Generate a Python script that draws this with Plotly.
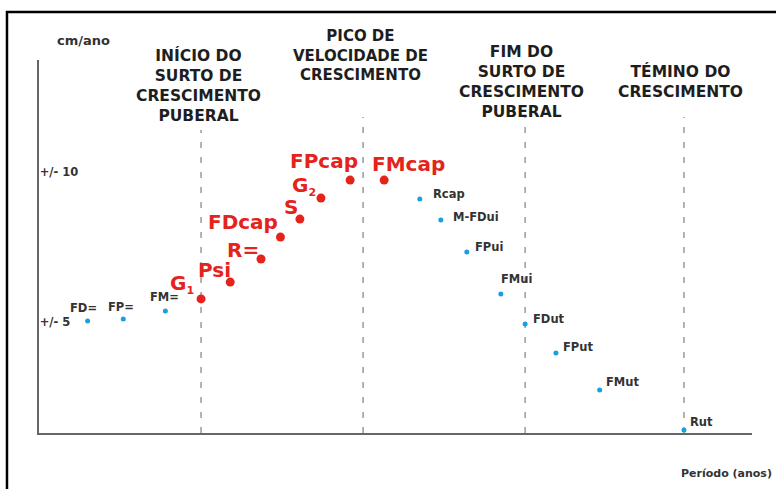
import plotly.graph_objects as go

# ---------------- data ----------------
blue_names = ["FD=", "FP=", "FM=", "Rcap", "M-FDui", "FPui", "FMui", "FDut", "FPut", "FMut", "Rut"]
blue_x = [0.30, 0.52, 0.78, 2.35, 2.48, 2.64, 2.85, 3.00, 3.19, 3.46, 3.98]
blue_y = [5.03, 5.10, 5.37, 9.10, 8.40, 7.33, 5.93, 4.93, 3.97, 2.73, 1.40]

red_names = ["G<sub><span style='font-size:11px'>1</span></sub>", "Psi", "R=", "FDcap", "S",
             "G<sub><span style='font-size:11px'>2</span></sub>", "FPcap", "FMcap"]
red_x = [1.00, 1.18, 1.37, 1.49, 1.61, 1.74, 1.92, 2.13]
red_y = [5.77, 6.33, 7.10, 7.83, 8.43, 9.13, 9.73, 9.73]

phase_x = [1.0, 2.0, 3.0, 3.98]
phase_names = [
    "INÍCIO DO<br>SURTO DE<br>CRESCIMENTO<br>PUBERAL",
    "PICO DE<br>VELOCIDADE DE<br>CRESCIMENTO",
    "FIM DO<br>SURTO DE<br>CRESCIMENTO<br>PUBERAL",
    "TÉMINO DO<br>CRESCIMENTO",
]

y_tick_vals = [5, 10]
y_tick_text = ["+/- 5", "+/- 10"]
y_title = "cm/ano"
x_title = "Período (anos)"

# ---------------- style ----------------
RED = "#e5231b"
BLUE = "#1a9fe0"
DARK = "#1e1e1e"
FONT = "DejaVu Sans"
X_RANGE = [0, 4.4]
Y_RANGE = [1.3, 13.733]

# label placement: (xanchor, xshift, yshift)
blue_off = [("center", -4, 13), ("center", -2, 12), ("center", -1, 14),
            ("left", 11, 5), ("left", 10, 3), ("left", 6, 5), ("left", -2, 15),
            ("left", 6, 5), ("left", 5, 6), ("left", 4, 8), ("left", 4, 8)]
red_off = [(-19, 15), (-16, 12), (-18, 9), (-37, 15), (-9, 12), (-17, 12), (-26, 19), (24, 16)]
head_off = [(-3, -25, 15.5), (-3, 5, 15), (-4, -22, 15.5), (-3, -21.5, 15.5)]
dash_top = [11.4, 11.83, 11.83, 11.83]

fig = go.Figure()
fig.add_trace(go.Scatter(x=red_x, y=red_y, mode="markers",
                         marker=dict(color=RED, size=9), cliponaxis=False,
                         hoverinfo="text", text=red_names, showlegend=False))
fig.add_trace(go.Scatter(x=blue_x, y=blue_y, mode="markers",
                         marker=dict(color=BLUE, size=5), cliponaxis=False,
                         hoverinfo="text", text=blue_names, showlegend=False))

annotations = []
for n, x, y, (xa, dx, dy) in zip(blue_names, blue_x, blue_y, blue_off):
    annotations.append(dict(x=x, y=y, xref="x", yref="y", text=n, showarrow=False,
                            xanchor=xa, yanchor="middle", xshift=dx, yshift=dy,
                            font=dict(family=FONT, size=11.5, color="#333", weight=700)))
for n, x, y, (dx, dy) in zip(red_names, red_x, red_y, red_off):
    annotations.append(dict(x=x, y=y, xref="x", yref="y", text=n, showarrow=False,
                            xanchor="center", yanchor="middle", xshift=dx, yshift=dy,
                            font=dict(family=FONT, size=20, color=RED, weight=700)))
for n, x, (dx, dy, fs) in zip(phase_names, phase_x, head_off):
    annotations.append(dict(x=x, y=1, xref="x", yref="paper", text=n, showarrow=False,
                            xanchor="center", yanchor="middle", xshift=dx, yshift=dy,
                            align="center",
                            font=dict(family=FONT, size=fs, color=DARK, weight=700)))
annotations.append(dict(x=0, y=1, xref="paper", yref="paper", text=y_title, showarrow=False,
                        xanchor="center", yanchor="middle", xshift=44, yshift=20,
                        font=dict(family=FONT, size=13, color="#333", weight=700)))
annotations.append(dict(x=1, y=0, xref="paper", yref="paper", text=x_title, showarrow=False,
                        xanchor="right", yanchor="middle", xshift=22, yshift=-40,
                        font=dict(family=FONT, size=11, color="#333", weight=700)))

shapes = []
for x, top in zip(phase_x, dash_top):
    shapes.append(dict(type="line", xref="x", yref="y", x0=x, x1=x, y0=Y_RANGE[0], y1=top,
                       line=dict(color="#9a9a9a", width=1.5, dash="6px,9px"), layer="below"))
# outer frame
shapes.append(dict(type="rect", xref="paper", yref="paper",
                   x0=-0.0449, x1=1.06, y0=-0.17, y1=1.1287,
                   line=dict(color="black", width=2.5), fillcolor="rgba(0,0,0,0)"))

fig.update_layout(
    width=776, height=489,
    margin=dict(l=39, r=24, t=60, b=56),
    paper_bgcolor="white", plot_bgcolor="white",
    showlegend=False,
    annotations=annotations, shapes=shapes,
    xaxis=dict(range=X_RANGE, showline=True, linecolor="#666", linewidth=2,
               showgrid=False, zeroline=False, showticklabels=False, ticks=""),
    yaxis=dict(range=Y_RANGE, showline=True, linecolor="#666", linewidth=2,
               showgrid=False, zeroline=False, ticks="",
               tickvals=y_tick_vals, ticktext=y_tick_text, ticklabelposition="inside",
               tickfont=dict(family=FONT, size=11.5, color="#333", weight=700)),
)

fig.write_html("out.html", config={"displayModeBar": False},
               post_script="document.body.style.margin='0';document.body.style.overflow='hidden';")
